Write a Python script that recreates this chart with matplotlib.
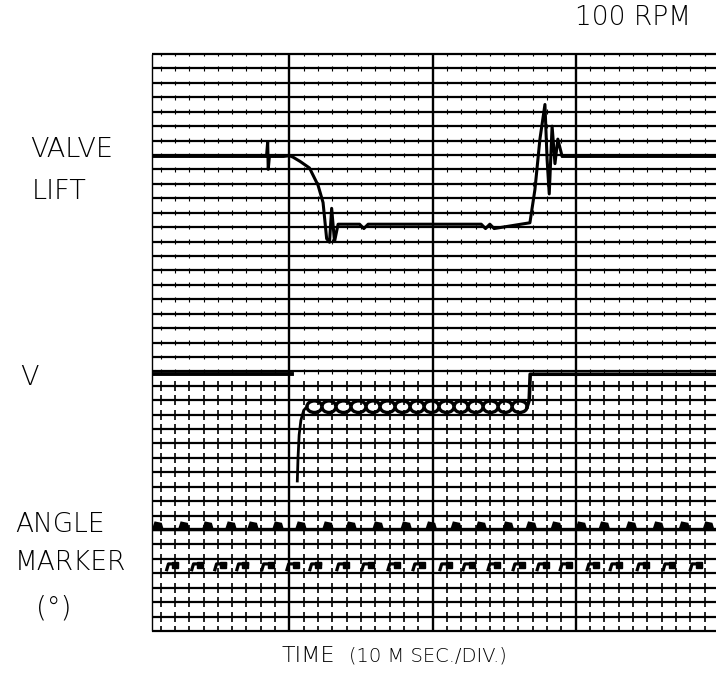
import numpy as np
import matplotlib.pyplot as plt
from matplotlib.patches import Arc

# chart recorder traces
# time in ms (10 ms per division), height in grid rows (0 = bottom line)
valve_t = [0.4, 8.4, 8.48, 8.52, 8.6, 9.6, 10.0, 10.25, 10.75, 11.4, 12.0, 12.35, 12.6, 12.8,
           12.95, 13.15, 13.4, 14.9, 15.2, 15.5, 23.4, 23.7, 24.0, 24.3, 26.8, 27.15, 27.5,
           27.85, 28.0, 28.15, 28.35, 28.55, 28.75, 29.05, 29.3, 39.8]
valve_y = [32.9, 32.9, 33.9, 32.0, 32.9, 32.9, 32.95, 32.85, 32.55, 32.1, 30.9, 29.7, 27.2, 26.95,
           29.3, 27.0, 28.2, 28.2, 27.9, 28.2, 28.2, 27.9, 28.2, 27.9, 28.3, 30.6, 34.1,
           36.5, 32.7, 30.3, 35.0, 32.4, 34.1, 32.9, 32.9, 32.9]

# V trace: high level, drop, rise into the ripple, back to high level
v_left_t = [0.4, 10.2]
v_left_y = [17.8, 17.8]
v_rise_t = [10.55, 10.6, 10.68, 10.8, 11.0, 11.22]
v_rise_y = [10.4, 12.0, 13.6, 14.6, 15.3, 15.55]
v_right_t = [26.61, 26.75, 26.82, 39.8]
v_right_y = [15.55, 16.0, 17.8, 17.8]
ripple_nodes = [11.22, 12.27, 13.25, 14.30, 15.35, 16.33, 17.38, 18.43, 19.41, 20.45,
                21.50, 22.48, 23.53, 24.58, 25.56, 26.61]
ripple_level = 15.55
ripple_height = 0.8

# angle marker pulses
marker1_t = [0.73, 2.55, 4.23, 5.84, 7.38, 9.13, 10.73, 12.62, 14.23, 16.12, 18.08, 19.83,
             21.57, 23.32, 25.21, 26.82, 28.57, 30.31, 31.92, 33.81, 35.70, 37.52, 39.20]
marker1_level = 7.0
marker2_t = [1.43, 3.18, 4.79, 6.33, 8.08, 9.83, 11.43, 13.32, 15.07, 16.89, 18.64, 20.52,
             22.13, 23.88, 25.63, 27.31, 28.92, 30.80, 32.41, 34.30, 36.12, 38.01]
marker2_level = 4.65

W, H = 716, 676
fig = plt.figure(figsize=(W / 100, H / 100), dpi=100)
ax = fig.add_axes([152 / W, (H - 631) / H, (W - 152) / W, (631 - 54) / H])
ax.set_xlim(0.4, 39.8)
ax.set_ylim(0, 40)
ax.axis('off')

# grid: horizontal rows, major divisions, short minor ticks
rows = np.arange(0, 41)
ax.hlines(rows, 0.4, 39.8, color='black', lw=1.6, clip_on=False)
ax.vlines([10, 20, 30], 0, 40, color='black', lw=1.7, clip_on=False)
ax.vlines([0.4], 0, 40, color='black', lw=1.0, clip_on=False)
minor = [m for m in np.arange(1, 40) if m % 10 != 0]
low_rows = rows[rows <= 17]
high_rows = rows[rows > 17]
mx, my = np.meshgrid(minor, low_rows)
ax.vlines(mx.ravel(), my.ravel() - 0.35, my.ravel() + 0.35, color='black', lw=1.2)
mx, my = np.meshgrid(minor, high_rows)
ax.vlines(mx.ravel(), my.ravel() - 0.16, my.ravel() + 0.16, color='black', lw=0.8)

# valve lift
ax.plot(valve_t, valve_y, color='black', lw=2.2, solid_joinstyle='round')

# V
ax.plot(v_left_t, v_left_y, color='black', lw=2.8)
ax.plot(v_rise_t, v_rise_y, color='black', lw=2.0)
ax.plot(v_right_t, v_right_y, color='black', lw=2.6)
for a, b in zip(ripple_nodes[:-1], ripple_nodes[1:]):
    c = (a + b) / 2
    ax.add_patch(Arc((c, ripple_level), b - a, ripple_height, theta1=0, theta2=180,
                     color='black', lw=2.4))
    ax.add_patch(Arc((c, ripple_level), b - a, ripple_height, theta1=180, theta2=360,
                     color='black', lw=2.4))

# angle markers
for t in marker1_t:
    ax.fill([t - 0.35, t - 0.15, t + 0.35, t + 0.5],
            [marker1_level, marker1_level + 0.6, marker1_level + 0.5, marker1_level],
            color='black', lw=0)
ax.hlines([marker1_level + 0.05], 0.4, 39.8, color='black', lw=2.4)
for t in marker2_t:
    ax.plot([t, t + 0.12, t + 0.75], [marker2_level - 0.4, marker2_level, marker2_level],
            color='black', lw=2.3)
    ax.plot([t + 0.6], [marker2_level - 0.08], 's', color='black', ms=4.5)


def label(x, y, s, size, ha='left'):
    fig.text(x / W, 1 - y / H, s, fontsize=size, ha=ha, va='baseline',
             family='DejaVu Sans', fontweight='light')


label(633, 25, '100 RPM', 19, ha='center')
label(30, 157, 'VALVE', 19.5)
label(32, 199, 'LIFT', 19.5)
label(20, 385, 'V', 19.5)
label(15, 532, 'ANGLE', 19)
label(15, 570, 'MARKER', 19)
label(54, 617, '(°)', 20, ha='center')
label(282, 662, 'TIME', 16)
label(349, 662, '(10 M SEC./DIV.)', 14)

fig.savefig('out.png', dpi=100, facecolor='white')
